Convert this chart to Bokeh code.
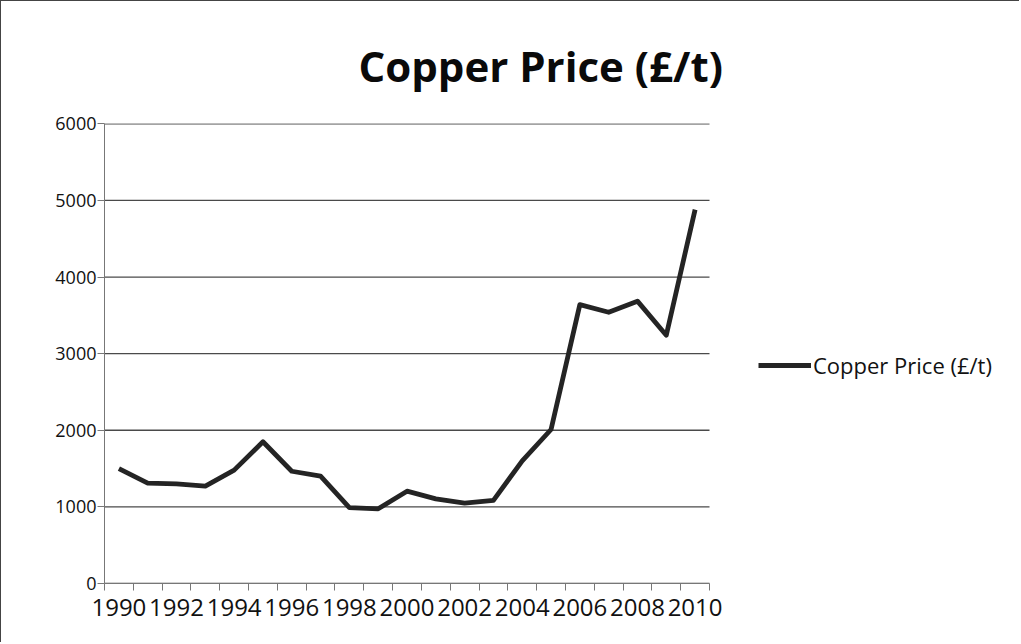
from bokeh.plotting import figure
from bokeh.models import Range1d, FixedTicker, Legend, LegendItem
from bokeh.embed import file_html
from bokeh.resources import INLINE

years = list(range(1990, 2011))
price = [1500, 1310, 1300, 1270, 1480, 1850, 1465, 1400, 990, 975,
         1205, 1105, 1050, 1085, 1600, 2010, 3640, 3540, 3685, 3240, 4880]
label_years = list(range(1990, 2011, 2))
y_ticks = [0, 1000, 2000, 3000, 4000, 5000, 6000]
title_text = "Copper Price (£/t)"
series_name = "Copper Price (£/t)"

FONT = "Open Sans"

# layout (pixels)
W, H = 1019, 642
LEFT, TOP, BOTTOM_Y = 103, 122, 582
CHART_RIGHT, FRAME_RIGHT = 708, 1014
frame_w = FRAME_RIGHT - LEFT
chart_w = CHART_RIGHT - LEFT

x0 = years[0] - 0.5
x1 = years[-1] + 0.5
x_end = x0 + (x1 - x0) * frame_w / chart_w

p = figure(width=W, height=H, output_backend="svg", toolbar_location=None,
           x_range=Range1d(x0, x_end), y_range=Range1d(0, 6004),
           min_border_left=LEFT, min_border_top=TOP,
           min_border_right=W - FRAME_RIGHT, min_border_bottom=H - BOTTOM_Y)
p.outline_line_color = None
p.background_fill_color = "white"
p.border_fill_color = "white"

# horizontal gridlines limited to the chart area
p.ygrid.visible = False
p.xgrid.visible = False
p.segment(x0=[x0] * len(y_ticks), x1=[x1] * len(y_ticks), y0=y_ticks, y1=y_ticks,
          line_color="#4a4a4a", line_width=1.3)

r = p.line(years, price, line_width=4.8, line_color="#242424", line_join="round")

# title
p.title.text = title_text
p.title.text_font = FONT
p.title.text_font_style = "bold"
p.title.text_font_size = "42px"
p.title.text_color = "#0a0a0a"
p.title.align = "left"
p.title.offset = 254
p.title.standoff = 60

# axes
p.xaxis.bounds = (x0, x1)
p.xaxis.ticker = FixedTicker(ticks=label_years,
                             minor_ticks=[y - 0.5 for y in years] + [x1])
p.xaxis.major_tick_out = 0
p.xaxis.major_tick_in = 0
p.xaxis.minor_tick_out = 7
p.xaxis.minor_tick_in = 0
p.xaxis.minor_tick_line_color = "#777777"
p.xaxis.axis_line_color = "#777777"
p.xaxis.major_label_text_font = FONT
p.xaxis.major_label_text_font_size = "24px"
p.xaxis.major_label_text_color = "#111111"
p.xaxis.major_label_standoff = 8

p.yaxis.ticker = FixedTicker(ticks=y_ticks)
p.yaxis.minor_tick_line_color = None
p.yaxis.major_tick_out = 7
p.yaxis.major_tick_in = 0
p.yaxis.major_tick_line_color = "#777777"
p.yaxis.axis_line_color = "#777777"
p.yaxis.major_label_text_font = FONT
p.yaxis.major_label_text_font_size = "18px"
p.yaxis.major_label_text_color = "#111111"
p.yaxis.major_label_standoff = 1

legend = Legend(items=[LegendItem(label=series_name, renderers=[r])],
                location=(654, 203), margin=0, padding=0,
                glyph_width=53, glyph_height=26, label_standoff=2,
                label_text_font=FONT, label_text_font_size="22px",
                label_text_color="#111111", border_line_color=None,
                background_fill_color=None)
p.add_layout(legend)

p.styles = {"border-left": "1px solid #444", "border-top": "1px solid #444"}

open("out.html", "w").write(file_html(p, INLINE))
